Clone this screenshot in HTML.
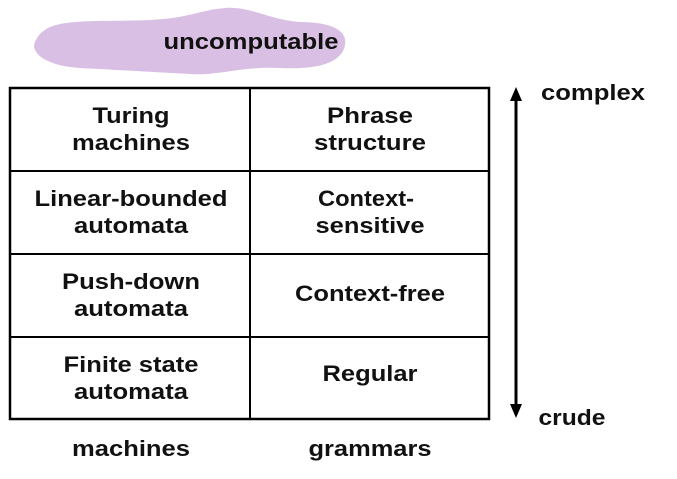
<!DOCTYPE html><html><head><style>
body{margin:0;width:677px;height:474px;background:#fff;overflow:hidden}
svg text{font-family:"Liberation Sans",Arial,sans-serif;font-weight:bold;font-size:22px;fill:#111;text-anchor:middle}
</style></head><body>
<svg width="677" height="474" viewBox="0 0 677 474">
<path d="M45,30 C60,18 110,22 150,20 C190,18 200,10 225,8 C250,6 270,20 300,22 C330,22 348,30 345,45 C342,62 320,70 280,68 C240,66 220,76 190,74 C150,72 120,70 80,68 C45,66 30,52 35,42 C38,36 40,33 45,30Z" fill="#d9bfe3"/>
<text x="251" y="49" textLength="175" lengthAdjust="spacingAndGlyphs">uncomputable</text>
<rect x="10" y="88" width="479" height="331" fill="none" stroke="#000" stroke-width="2.5"/>
<line x1="250" y1="88" x2="250" y2="419" stroke="#000" stroke-width="2"/>
<line x1="10" y1="171" x2="489" y2="171" stroke="#000" stroke-width="2"/>
<line x1="10" y1="254" x2="489" y2="254" stroke="#000" stroke-width="2"/>
<line x1="10" y1="337" x2="489" y2="337" stroke="#000" stroke-width="2"/>
<text x="131" y="123" textLength="77" lengthAdjust="spacingAndGlyphs">Turing</text><text x="131" y="150" textLength="118" lengthAdjust="spacingAndGlyphs">machines</text>
<text x="370" y="123" textLength="86" lengthAdjust="spacingAndGlyphs">Phrase</text><text x="370" y="150" textLength="112" lengthAdjust="spacingAndGlyphs">structure</text>
<text x="131" y="206" textLength="193" lengthAdjust="spacingAndGlyphs">Linear-bounded</text><text x="131" y="233" textLength="114" lengthAdjust="spacingAndGlyphs">automata</text>
<text x="366" y="206" textLength="96" lengthAdjust="spacingAndGlyphs">Context-</text><text x="370" y="233" textLength="109" lengthAdjust="spacingAndGlyphs">sensitive</text>
<text x="131" y="289" textLength="138" lengthAdjust="spacingAndGlyphs">Push-down</text><text x="131" y="316" textLength="114" lengthAdjust="spacingAndGlyphs">automata</text>
<text x="370" y="301" textLength="150" lengthAdjust="spacingAndGlyphs">Context-free</text>
<text x="131" y="372" textLength="135" lengthAdjust="spacingAndGlyphs">Finite state</text><text x="131" y="399" textLength="114" lengthAdjust="spacingAndGlyphs">automata</text>
<text x="370" y="381" textLength="95" lengthAdjust="spacingAndGlyphs">Regular</text>
<line x1="516" y1="100" x2="516" y2="405" stroke="#000" stroke-width="3"/>
<polygon points="510,101 522,101 516,87" fill="#000"/>
<polygon points="510,404 522,404 516,418" fill="#000"/>
<text x="593" y="100" textLength="104" lengthAdjust="spacingAndGlyphs">complex</text>
<text x="572" y="425" textLength="67" lengthAdjust="spacingAndGlyphs">crude</text>
<text x="131" y="456" textLength="118" lengthAdjust="spacingAndGlyphs">machines</text>
<text x="370" y="456" textLength="123" lengthAdjust="spacingAndGlyphs">grammars</text>
</svg></body></html>
